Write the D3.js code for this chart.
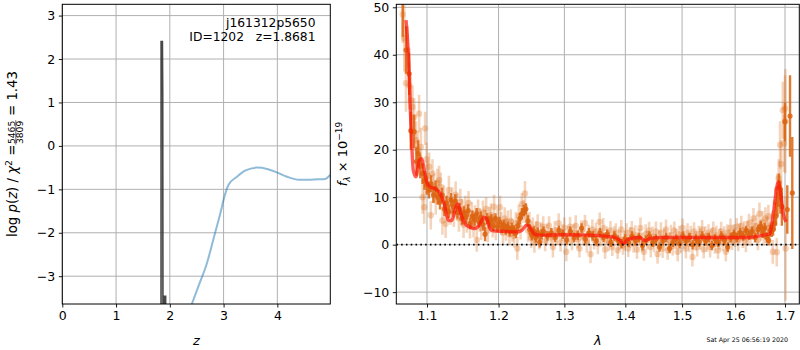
<!DOCTYPE html>
<html><head><meta charset="utf-8">
<script src="https://cdn.jsdelivr.net/npm/d3@7"></script>
<style>
body{margin:0;background:#fff;}
svg{display:block;font-family:"DejaVu Sans",sans-serif;}
</style></head><body>
<svg id="chart" width="800" height="350"></svg>
<script>
// ---------------- DATA ----------------
const zTicks = [0, 1, 2, 3, 4];
const lnpTicks = [-3, -2, -1, 0, 1, 2, 3];
const waveTicks = [1.1, 1.2, 1.3, 1.4, 1.5, 1.6, 1.7];
const fluxTicks = [-10, 0, 10, 20, 30, 40, 50];

const titleLines = ["j161312p5650", "ID=1202   z=1.8681"];
const chi2Num = "5465", chi2Den = "3809", chi2Val = "1.43";
const stamp = "Sat Apr 25 06:56:19 2020";

// log p(z) (dark narrow peak)
const pzZ   = [1.780, 1.836, 1.838, 1.862, 1.868, 1.874, 1.893, 1.895, 1.922, 1.924];
const pzLog = [-6, -6, 2.40, 2.40, 1.17, -6, -6, -3.46, -3.46, -6];

// chi2-like curve (light blue)
const chiZ   = [2.30, 2.41, 2.53, 2.69, 2.84, 2.94, 3.00, 3.09, 3.25, 3.40, 3.62, 3.81, 3.99, 4.18, 4.40, 4.55, 4.74, 4.89, 4.985, 5.05];
const chiLog = [-4.05, -3.64, -3.24, -2.70, -2.01, -1.55, -1.24, -0.90, -0.71, -0.57, -0.50, -0.53, -0.61, -0.71, -0.78, -0.78, -0.77, -0.76, -0.67, -0.60];

// 1D spectrum, individual points (light)
const specWave = [
 1.0680,1.0700,1.0722,1.0744,1.0765,1.0786,1.0808,1.0829,1.0853,1.0875,
 1.0895,1.0919,1.0941,1.0963,1.0975,1.0995,1.1015,1.1029,1.1051,1.1074,
 1.1095,1.1118,1.1140,1.1163,1.1185,1.1208,1.1230,1.1252,1.1275,1.1297,
 1.1320,1.1343,1.1365,1.1390,1.1410,1.1435,1.1455,1.1480,1.1500,1.1525,
 1.1545,1.1570,1.1590,1.1615,1.1640,1.1660,1.1686,1.1705,1.1730,1.1750,
 1.1775,1.1800,1.1820,1.1845,1.1870,1.1890,1.1915,1.1935,1.1960,1.1985,
 1.2021,1.2040,1.2065,1.2090,1.2110,1.2135,1.2160,1.2180,1.2205,1.2230,
 1.2255,1.2277,1.2300,1.2325,1.2345,1.2370,1.2392,1.2415,1.2440,1.2460,
 1.2485,1.2510,1.2535,1.2560,1.2585,1.2610,1.2640,1.2670,1.2700,1.2730,
 1.2760,1.2790,1.2820,1.2850,1.2880,1.2910,1.2940,1.2970,1.3000,1.3030,
 1.3060,1.3090,1.3120,1.3150,1.3180,1.3210,1.3240,1.3270,1.3300,1.3330,
 1.3360,1.3390,1.3420,1.3450,1.3480,1.3510,1.3540,1.3570,1.3600,1.3630,
 1.3660,1.3690,1.3720,1.3750,1.3780,1.3810,1.3840,1.3870,1.3900,1.3930,
 1.3960,1.3990,1.4020,1.4050,1.4080,1.4110,1.4140,1.4170,1.4200,1.4230,
 1.4260,1.4290,1.4320,1.4350,1.4380,1.4410,1.4440,1.4470,1.4500,1.4530,
 1.4560,1.4590,1.4620,1.4650,1.4680,1.4710,1.4740,1.4770,1.4800,1.4830,
 1.4860,1.4890,1.4920,1.4950,1.4980,1.5010,1.5040,1.5070,1.5100,1.5130,
 1.5160,1.5190,1.5220,1.5250,1.5280,1.5310,1.5340,1.5370,1.5400,1.5430,
 1.5460,1.5490,1.5520,1.5550,1.5580,1.5610,1.5640,1.5670,1.5700,1.5730,
 1.5760,1.5790,1.5820,1.5850,1.5880,1.5910,1.5940,1.5970,1.6000,1.6030,
 1.6060,1.6090,1.6120,1.6150,1.6180,1.6210,1.6240,1.6270,1.6300,1.6330,
 1.6360,1.6390,1.6420,1.6450,1.6480,1.6510,1.6540,1.6570,1.6600,1.6630,
 1.6660,1.6690,1.6720,1.6750,1.6780,1.6810,1.6840,1.6870,1.6898,1.6920,
 1.6955,1.6980,1.7000,1.7008,1.7012,1.6830];
const specFlux = [
 48.5,43.5,34.0,41.0,33.5,30.4,29.0,26.9,22.0,20.0,
 27.6,20.6,10.0,7.9,24.5,18.0,14.5,16.4,6.2,15.0,
 12.0,9.3,13.0,13.6,12.2,5.1,9.5,4.4,8.0,11.5,
 7.0,9.3,6.5,10.5,8.0,5.5,9.0,6.8,4.2,7.8,
 5.0,8.8,3.8,6.5,4.0,5.8,1.0,7.0,5.2,3.5,
 6.8,4.8,7.5,3.0,5.5,6.2,4.0,8.0,3.5,5.0,
 7.9,4.5,2.5,5.5,3.2,4.8,2.2,5.0,3.0,1.8,
 4.5,-0.8,6.0,3.5,8.5,7.0,10.8,6.0,3.0,4.5,
 1.5,3.5,0.5,2.8,4.2,1.2,2.5,3.8,0.8,2.2,
 4.0,1.5,-0.5,3.0,1.8,4.5,0.5,2.5,3.5,-1.5,
 2.0,3.8,0.8,2.5,4.0,1.2,-0.8,3.0,1.8,4.5,
 0.5,2.2,-2.0,3.2,1.0,2.8,0.2,4.8,1.5,3.5,
 -1.0,2.0,0.8,3.0,-0.5,1.8,2.5,-1.2,1.0,3.2,
 -0.2,0.8,2.5,-0.8,1.5,3.0,0.2,2.0,-1.0,1.5,
 3.5,0.5,-1.5,2.2,1.0,3.0,-0.5,1.8,0.3,2.8,
 -2.0,1.2,2.5,-0.8,1.5,3.2,-1.2,0.8,2.0,-0.3,
 3.0,1.2,-1.5,2.2,0.5,3.5,1.0,-0.8,2.5,0.2,
 1.8,-2.6,2.8,0.8,-0.5,2.2,1.2,3.2,-1.0,1.8,
 0.5,2.5,-0.5,1.5,3.0,0.2,2.0,-1.2,1.2,2.8,
 0.5,1.8,-1.5,2.5,1.0,3.5,0.8,2.2,1.5,3.8,
 0.8,2.5,4.0,1.5,3.0,0.5,2.8,4.5,1.8,3.2,
 5.5,2.5,4.0,1.0,6.5,3.0,4.8,2.0,5.5,3.5,
 6.0,2.5,4.0,-1.5,6.5,9.0,11.5,14.0,21.0,17.0,
 28.3,21.3,28.7,26.0,-0.8,-1.6];
const specErr = [
 6,7,6,5,5,5,4.5,4,4,4,
 4,4,3.5,3.5,3.5,3.5,3,3,3,3,
 3,3,3,3,3,3,3,3,3,3,
 2.8,2.8,2.8,2.8,2.8,2.8,2.8,2.8,2.8,2.5,
 2.5,2.5,2.5,2.5,2.5,2.5,2.5,2.5,2.5,2.5,
 2.5,2.5,2.5,2.5,2.5,2.5,2.5,2.5,2.5,2.5,
 2.4,2.4,2.4,2.4,2.4,2.4,2.4,2.4,2.4,2.4,
 2.4,2.4,2.4,2.4,2.4,2.4,2.6,2.4,2.4,2.4,
 2.2,2.2,2.2,2.2,2.2,2.2,2.2,2.2,2.2,2.2,
 2.0,1.8,2.2,2.0,1.9,2.1,2.0,1.8,2.2,2.0,
 1.9,2.1,2.0,1.8,2.2,2.0,1.9,2.1,2.0,1.8,
 2.2,2.0,1.9,2.1,2.0,1.8,2.2,2.0,1.9,2.1,
 2.0,1.8,2.2,2.0,1.9,2.1,2.0,1.8,2.2,2.0,
 1.9,2.1,2.0,1.8,2.2,2.0,1.9,2.1,2.0,1.8,
 2.2,2.0,1.9,2.1,2.0,1.8,2.2,2.0,1.9,2.1,
 2.0,1.8,2.2,2.0,1.9,2.1,2.0,1.8,2.2,2.0,
 1.9,2.1,2.0,1.8,2.2,2.0,1.9,2.1,2.0,1.8,
 2.2,2.0,1.9,2.1,2.0,1.8,2.2,2.0,1.9,2.1,
 2.0,1.8,2.2,2.0,1.9,2.1,2.0,1.8,2.2,2.0,
 1.9,2.1,2.0,1.8,2.2,2.0,1.9,2.1,2.0,1.8,
 2.2,2.0,2.1,2.2,2.0,2.1,2.2,2.0,2.1,2.2,
 2.2,2.1,2.3,2.2,2.4,2.2,2.3,2.2,2.4,2.3,
 2.4,2.3,2.4,2.5,2.5,3.0,3.5,4.0,5.0,5.0,
 6.0,6.0,7.0,11.0,11.0,3.0];

// binned spectrum (dark)
const binWave = [
 1.0680,1.0723,1.0765,1.0786,1.0829,1.0860,1.0884,1.0910,1.0940,1.0965,
 1.0995,1.1025,1.1055,1.1085,1.1115,1.1145,1.1175,1.1205,1.1235,1.1265,
 1.1295,1.1325,1.1355,1.1385,1.1415,1.1445,1.1475,1.1505,1.1535,1.1565,
 1.1595,1.1625,1.1655,1.1685,1.1715,1.1745,1.1775,1.1805,1.1835,1.1865,
 1.1895,1.1925,1.1955,1.1985,1.2015,1.2045,1.2075,1.2105,1.2135,1.2165,
 1.2195,1.2225,1.2255,1.2285,1.2315,1.2345,1.2375,1.2405,1.2435,1.2465,
 1.2495,1.2525,1.2555,1.2585,1.2615,1.2645,1.2675,1.2735,1.2795,1.2855,
 1.2915,1.2975,1.3035,1.3095,1.3155,1.3215,1.3275,1.3335,1.3395,1.3455,
 1.3515,1.3575,1.3635,1.3695,1.3755,1.3815,1.3875,1.3935,1.3995,1.4055,
 1.4115,1.4175,1.4235,1.4295,1.4355,1.4415,1.4475,1.4535,1.4595,1.4655,
 1.4715,1.4775,1.4835,1.4895,1.4955,1.5015,1.5075,1.5135,1.5195,1.5255,
 1.5315,1.5375,1.5435,1.5495,1.5555,1.5615,1.5675,1.5735,1.5795,1.5855,
 1.5915,1.5975,1.6035,1.6095,1.6155,1.6215,1.6275,1.6335,1.6395,1.6455,
 1.6505,1.6545,1.6585,1.6625,1.6665,1.6695,1.6725,1.6755,1.6785,1.6815,
 1.6845,1.6875,1.6905,1.6935,1.7000,1.7047,1.7104,1.7151];
const binFlux = [
 52.0,41.0,36.0,24.0,23.8,17.5,19.2,16.5,15.0,13.5,
 12.5,11.5,12.8,10.5,11.8,10.0,9.0,10.5,7.5,8.8,
 7.0,9.5,8.0,9.2,6.8,7.5,5.5,6.8,5.8,7.2,
 4.5,6.0,5.2,6.5,4.8,5.8,4.2,2.2,5.5,4.8,
 5.2,4.0,5.5,3.8,4.8,3.5,4.2,3.2,3.8,2.8,
 3.5,3.0,2.5,4.0,5.5,6.5,7.2,7.5,5.0,3.2,
 2.0,2.8,1.5,2.5,0.5,2.2,2.8,1.8,2.5,1.5,
 3.0,2.2,1.0,2.8,1.5,2.0,3.5,1.2,2.5,1.8,
 0.8,2.5,1.5,2.2,0.5,1.8,1.0,0.2,1.2,0.5,
 1.8,0.8,1.5,-0.2,1.0,1.8,0.5,1.2,-0.5,0.8,
 1.5,-0.8,0.5,1.2,0.2,1.8,0.8,1.5,0.0,1.2,
 0.5,1.8,0.8,1.5,-0.2,1.2,0.5,1.8,1.0,-0.5,
 1.5,2.2,1.5,2.5,1.8,3.0,2.0,2.8,1.5,3.2,
 3.9,2.5,3.5,1.5,0.9,3.0,2.8,3.2,4.5,6.0,
 8.5,12.0,10.0,8.0,25.9,7.4,27.1,10.9];
const binErr = [
 8.2,5,4.5,4,3.5,3,2.8,2.5,2.2,2,
 2,1.8,1.8,1.7,1.7,1.6,1.6,1.5,1.5,1.5,
 1.4,1.4,1.4,1.4,1.3,1.3,1.3,1.3,1.3,1.3,
 1.2,1.2,1.2,1.2,1.2,1.2,1.2,1.5,1.2,1.2,
 1.2,1.1,1.1,1.1,1.1,1.1,1.1,1.1,1.1,1.1,
 1.1,1.1,1.1,1.1,1.2,1.2,1.2,1.2,1.2,1.1,
 1.1,1.1,1.1,1.1,1.1,1.1,1.0,1.0,1.0,1.0,
 1.0,1.0,1.0,1.0,1.0,1.0,1.0,1.0,1.0,1.0,
 1.0,1.0,1.0,1.0,1.0,1.0,1.0,1.0,1.0,1.0,
 1.0,1.0,1.0,1.0,1.0,1.0,1.0,1.0,1.0,1.0,
 1.0,1.0,1.0,1.0,1.0,1.0,1.0,1.0,1.0,1.0,
 1.0,1.0,1.0,1.0,1.0,1.0,1.0,1.0,1.0,1.0,
 1.0,1.0,1.0,1.0,1.0,1.0,1.0,1.0,1.0,1.0,
 1.1,1.1,1.1,1.1,1.1,1.2,1.2,1.3,1.5,2.0,
 2.5,3.0,3.5,4.0,4.0,5.1,8.6,11.8];

// best-fit model (red)
const modelWave = [1.0723,1.0753,1.0775,1.0797,1.0818,1.0853,1.0898,1.0930,1.0964,1.0996,
 1.1040,1.1108,1.1176,1.1244,1.1289,1.1336,1.1381,1.1418,1.1464,1.1520,
 1.1591,1.1661,1.1732,1.1789,1.1828,1.1866,1.1923,1.2070,1.2268,1.2343,
 1.2418,1.2467,1.2528,1.2594,1.2982,1.3411,1.3797,1.3910,1.3966,1.4023,
 1.4080,1.4252,1.4339,1.4427,1.4603,1.5269,1.6226,1.6558,1.6693,1.6759,
 1.6862,1.6911,1.6965,1.7021];
const modelFlux = [47.3,40.3,30.4,21.3,15.7,14.3,17.8,18.1,15.7,13.2,
 12.2,11.8,10.8,7.9,5.1,5.1,7.2,8.6,6.5,4.4,
 3.7,3.4,4.4,5.8,5.5,3.7,2.9,2.8,2.7,3.0,
 4.1,3.7,2.3,2.0,2.1,2.0,1.6,0.9,0.2,0.9,
 1.3,1.5,0.8,1.3,1.5,1.5,1.5,2.0,2.3,6.5,
 13.2,10.8,6.5,4.8];

// ---------------- CHART ----------------
const svg = d3.select("#chart");
const GRID = "#b0b0b0";
const ORANGE = "#dc6410";
const FS = 12.5;

const L = {x0: 62.3, x1: 330.3, y0: 4.3, y1: 304};
const R = {x0: 396.3, x1: 799.3, y0: 4.3, y1: 304};

const xz = d3.scaleLinear().domain([0, 4.985]).range([L.x0, L.x1]);
const yl = d3.scaleLinear().domain([-3.64, 3.26]).range([L.y1, L.y0]);
const xw = d3.scaleLog().domain([1.0597, 1.7298]).range([R.x0, R.x1]);
const yf = d3.scaleLinear().domain([-12.5, 50.63]).range([R.y1, R.y0]);

const defs = svg.append("defs");
function clip(id, P) {
  defs.append("clipPath").attr("id", id).append("rect")
    .attr("x", P.x0).attr("y", P.y0).attr("width", P.x1 - P.x0).attr("height", P.y1 - P.y0);
}
clip("clipL", L); clip("clipR", R);

function grid(P, xs, xt, ys, yt) {
  const g = svg.append("g");
  g.selectAll(null).data(xt).join("line")
    .attr("x1", d => xs(d)).attr("x2", d => xs(d)).attr("y1", P.y0).attr("y2", P.y1)
    .attr("stroke", GRID).attr("stroke-width", 1);
  g.selectAll(null).data(yt).join("line")
    .attr("y1", d => ys(d)).attr("y2", d => ys(d)).attr("x1", P.x0).attr("x2", P.x1)
    .attr("stroke", GRID).attr("stroke-width", 1);
}
grid(L, xz, zTicks, yl, lnpTicks);
grid(R, xw, waveTicks, yf, fluxTicks);

function styleAxis(g) {
  g.select(".domain").remove();
  g.attr("color", "#000");
  g.selectAll(".tick line").attr("stroke-width", 0.9);
  g.selectAll(".tick text").attr("font-size", FS).attr("font-family", "DejaVu Sans");
}
const fInt = d3.format("d");
const fW = d3.format(".1f");
svg.append("g").attr("transform", `translate(0,${L.y1})`)
  .call(d3.axisBottom(xz).tickValues(zTicks).tickFormat(fInt).tickSize(3.5).tickPadding(3.5)).call(styleAxis);
svg.append("g").attr("transform", `translate(${L.x0},0)`)
  .call(d3.axisLeft(yl).tickValues(lnpTicks).tickFormat(fInt).tickSize(3.5).tickPadding(3.5)).call(styleAxis);
svg.append("g").attr("transform", `translate(0,${R.y1})`)
  .call(d3.axisBottom(xw).tickValues(waveTicks).tickFormat(fW).tickSize(3.5).tickPadding(3.5)).call(styleAxis);
svg.append("g").attr("transform", `translate(${R.x0},0)`)
  .call(d3.axisLeft(yf).tickValues(fluxTicks).tickFormat(fInt).tickSize(3.5).tickPadding(3.5)).call(styleAxis);

// ---- left panel marks
const gL = svg.append("g").attr("clip-path", "url(#clipL)");
gL.append("path")
  .attr("d", d3.line().x(i => xz(chiZ[i])).y(i => yl(chiLog[i])).curve(d3.curveMonotoneX)(d3.range(chiZ.length)))
  .attr("fill", "none").attr("stroke", "#1f77b4").attr("stroke-opacity", 0.5).attr("stroke-width", 2);
gL.append("path")
  .attr("d", d3.line().x(i => xz(pzZ[i])).y(i => yl(pzLog[i]))(d3.range(pzZ.length)))
  .attr("fill", "none").attr("stroke", "#333").attr("stroke-opacity", 0.9).attr("stroke-width", 1.6);

// title text
svg.append("g").selectAll(null).data(titleLines).join("text")
  .attr("x", 315.5).attr("y", (d, i) => 26.5 + i * 14.5)
  .attr("text-anchor", "end").attr("font-size", 12.3).style("white-space", "pre")
  .text(d => d);

// ---- right panel marks
const gR = svg.append("g").attr("clip-path", "url(#clipR)");
function drawSpec(g, wave, flux, err, bw, r, op) {
  const idx = d3.range(wave.length);
  g.append("g").selectAll(null).data(idx).join("line")
    .attr("x1", i => xw(wave[i])).attr("x2", i => xw(wave[i]))
    .attr("y1", i => yf(flux[i] - err[i])).attr("y2", i => yf(flux[i] + err[i]))
    .attr("stroke", ORANGE).attr("stroke-width", bw).attr("stroke-opacity", op);
  g.append("g").selectAll(null).data(idx).join("circle")
    .attr("cx", i => xw(wave[i])).attr("cy", i => yf(flux[i])).attr("r", r)
    .attr("fill", ORANGE).attr("fill-opacity", op);
}
drawSpec(gR, specWave, specFlux, specErr, 2.6, 3.2, 0.28);
drawSpec(gR, binWave, binFlux, binErr, 2.4, 2.6, 0.85);
gR.append("path")
  .attr("d", d3.line().x(i => xw(modelWave[i])).y(i => yf(modelFlux[i])).curve(d3.curveMonotoneX)(d3.range(modelWave.length)))
  .attr("fill", "none").attr("stroke", "#ff1008").attr("stroke-opacity", 0.68).attr("stroke-width", 3.4)
  .attr("stroke-linejoin", "round");
gR.append("line")
  .attr("x1", R.x0).attr("x2", R.x1).attr("y1", yf(0)).attr("y2", yf(0))
  .attr("stroke", "#000").attr("stroke-width", 1.6).attr("stroke-dasharray", "1.6,3.2");

// frames
[L, R].forEach(P => svg.append("rect")
  .attr("x", P.x0).attr("y", P.y0).attr("width", P.x1 - P.x0).attr("height", P.y1 - P.y0)
  .attr("fill", "none").attr("stroke", "#000").attr("stroke-width", 1));

// axis labels
svg.append("text").attr("x", (L.x0 + L.x1) / 2).attr("y", 345).attr("text-anchor", "middle")
  .attr("font-size", FS + 0.5).attr("font-style", "italic").text("z");
svg.append("text").attr("x", (R.x0 + R.x1) / 2).attr("y", 345).attr("text-anchor", "middle")
  .attr("font-size", FS + 0.5).attr("font-style", "italic").text("λ");

// right y label
const yr = svg.append("text").attr("transform", "translate(346.5,154) rotate(-90)")
  .attr("text-anchor", "middle").attr("font-size", FS + 0.5);
yr.append("tspan").attr("font-style", "italic").text("f");
yr.append("tspan").attr("font-style", "italic").attr("font-size", 9).attr("dy", 3).text("λ");
yr.append("tspan").attr("dy", -3).text(" × 10");
yr.append("tspan").attr("font-size", 9).attr("dy", -5).text("−19");

// left y label with fraction
const gl = svg.append("g").attr("transform", "translate(17,154) rotate(-90)");
const t1 = gl.append("text").attr("font-size", 13.3).attr("x", 0).attr("y", 0);
t1.append("tspan").text("log ");
t1.append("tspan").attr("font-style", "italic").text("p");
t1.append("tspan").text("(");
t1.append("tspan").attr("font-style", "italic").text("z");
t1.append("tspan").text(") / ");
t1.append("tspan").attr("font-style", "italic").text("χ");
t1.append("tspan").attr("font-size", 9.3).attr("dy", -5).text("2");
t1.append("tspan").attr("dy", 5).text(" = ");
const w1 = t1.node().getComputedTextLength();
const num = gl.append("text").attr("font-size", 9.2).attr("text-anchor", "middle").text(chi2Num);
const den = gl.append("text").attr("font-size", 9.2).attr("text-anchor", "middle").text(chi2Den);
const wf = Math.max(num.node().getComputedTextLength(), den.node().getComputedTextLength()) + 1;
const t3 = gl.append("text").attr("font-size", 13.3).style("white-space", "pre").text(" = " + chi2Val);
const w3 = t3.node().getComputedTextLength();
const tot = w1 + wf + w3;
const x0 = -tot / 2;
t1.attr("x", x0);
const fc = x0 + w1 + wf / 2;
num.attr("x", fc).attr("y", -2.4);
den.attr("x", fc).attr("y", 6.2);
gl.append("line").attr("x1", fc - wf / 2).attr("x2", fc + wf / 2).attr("y1", -1.2).attr("y2", -1.2)
  .attr("stroke", "#000").attr("stroke-width", 0.6);
t3.attr("x", x0 + w1 + wf);

// timestamp
svg.append("text").attr("x", 788).attr("y", 342).attr("text-anchor", "end")
  .attr("font-size", 6.3).text(stamp);
</script>
</body></html>
